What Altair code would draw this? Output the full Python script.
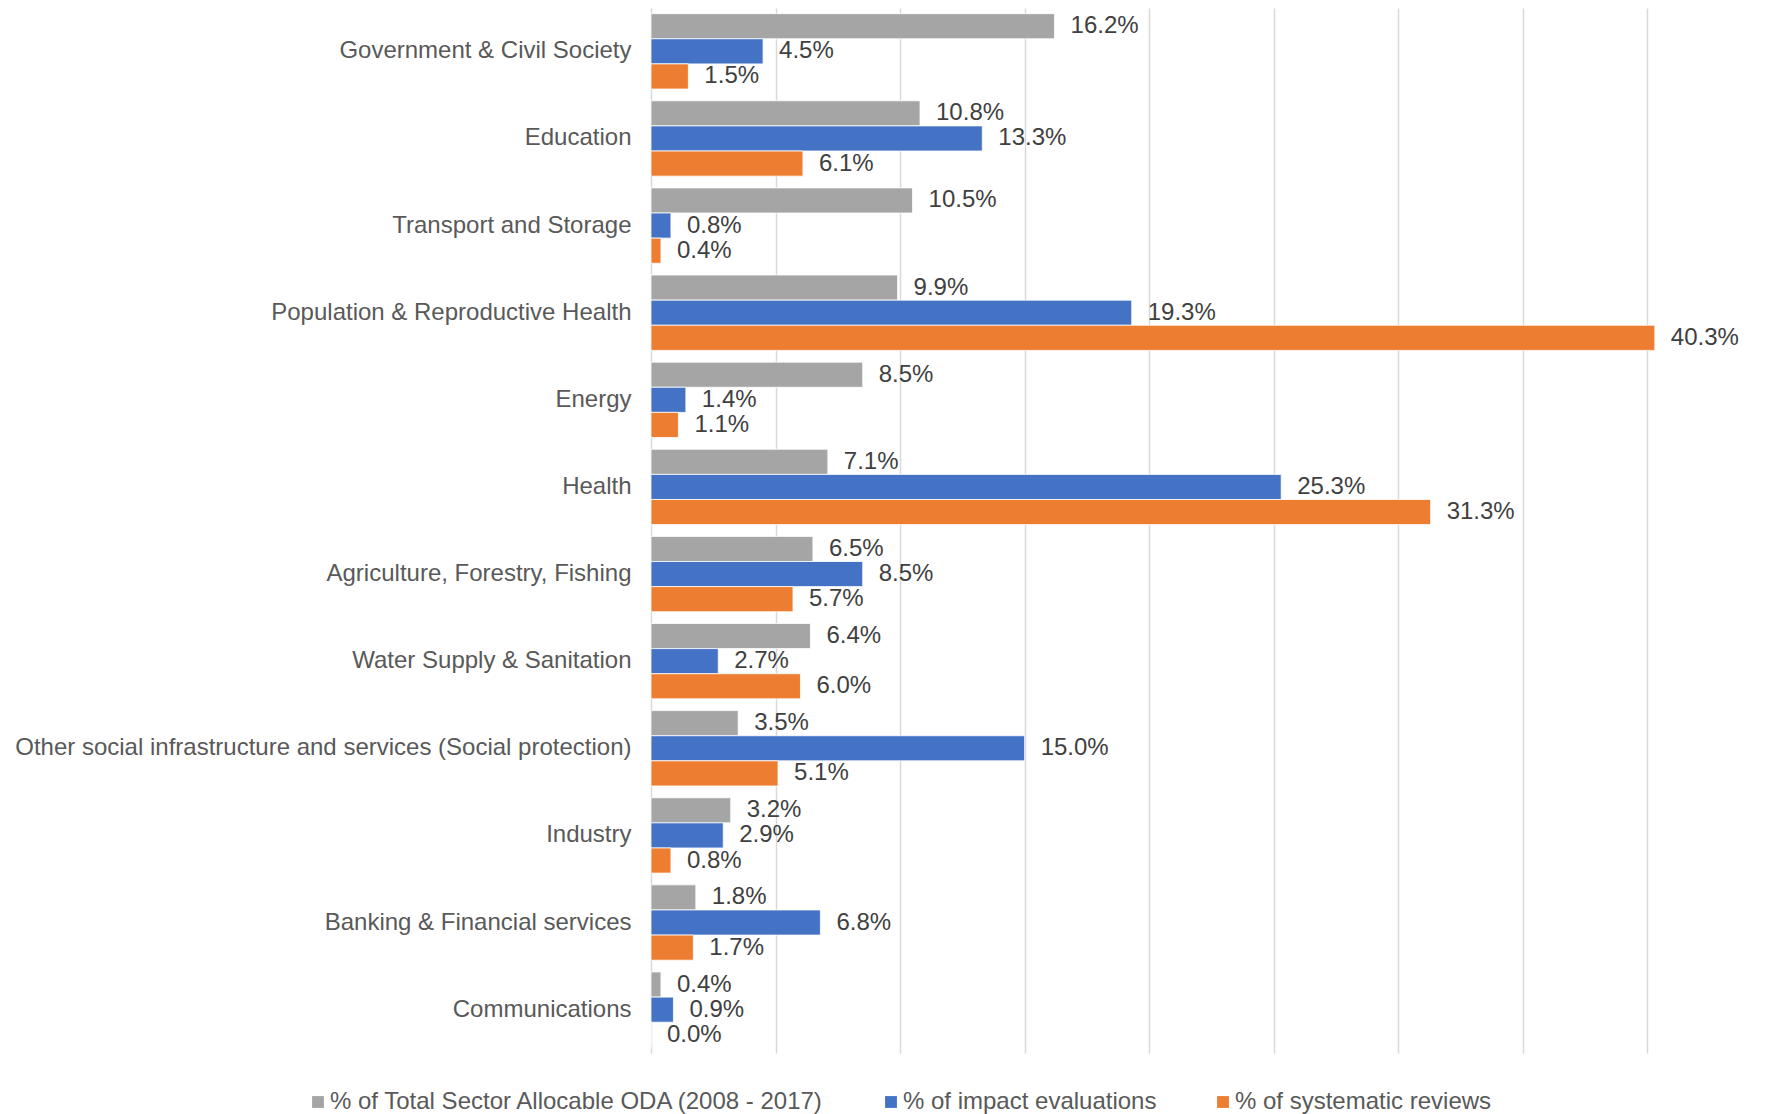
import altair as alt
import pandas as pd

categories = [
    "Government & Civil Society",
    "Education",
    "Transport and Storage",
    "Population & Reproductive Health",
    "Energy",
    "Health",
    "Agriculture, Forestry, Fishing",
    "Water Supply & Sanitation",
    "Other social infrastructure and services (Social protection)",
    "Industry",
    "Banking & Financial services",
    "Communications",
]
series = [
    "% of Total Sector Allocable ODA (2008 - 2017)",
    "% of impact evaluations",
    "% of systematic reviews",
]
oda = [16.2, 10.8, 10.5, 9.9, 8.5, 7.1, 6.5, 6.4, 3.5, 3.2, 1.8, 0.4]
impact = [4.5, 13.3, 0.8, 19.3, 1.4, 25.3, 8.5, 2.7, 15.0, 2.9, 6.8, 0.9]
reviews = [1.5, 6.1, 0.4, 40.3, 1.1, 31.3, 5.7, 6.0, 5.1, 0.8, 1.7, 0.0]
colors = ["#A5A5A5", "#4472C4", "#ED7D31"]
grid_values = [0, 5, 10, 15, 20, 25, 30, 35, 40]

rows = []
for i, c in enumerate(categories):
    for s, vals in zip(series, [oda, impact, reviews]):
        rows.append({"sector": c, "series": s, "value": vals[i],
                     "label": f"{vals[i]:.1f}%"})
df = pd.DataFrame(rows)

FONT = "Liberation Sans"

y_enc = alt.Y("sector:N", sort=categories,
              scale=alt.Scale(paddingInner=0.135, paddingOuter=0.065),
              axis=alt.Axis(title=None, labelFontSize=24, labelColor="#595959",
                            labelFont=FONT, labelPadding=20, labelLimit=0,
                            ticks=False, domain=False, grid=False))
yoff = alt.YOffset("series:N", sort=series,
                   scale=alt.Scale(paddingInner=0, paddingOuter=0))
x_enc = alt.X("value:Q", scale=alt.Scale(domain=[0, 44], nice=False),
              axis=alt.Axis(title=None, labels=False, ticks=False, domain=False,
                            grid=True, values=grid_values, gridColor="#D9D9D9",
                            gridWidth=1.5))

bars = alt.Chart(df).mark_bar(stroke="white", strokeWidth=0.8).encode(
    y=y_enc,
    yOffset=yoff,
    x=x_enc,
    color=alt.Color("series:N", sort=series,
                    scale=alt.Scale(domain=series, range=colors),
                    legend=alt.Legend(title=None, orient="none", direction="horizontal",
                                      legendX=-345, legendY=1082,
                                      labelFontSize=24, labelColor="#595959",
                                      labelFont=FONT, labelLimit=0,
                                      symbolType="square", symbolSize=140,
                                      symbolStrokeWidth=0, labelOffset=0,
                                      columnPadding=54, padding=0)),
)

texts = alt.Chart(df).mark_text(align="left", baseline="middle", dx=16,
                                fontSize=24, color="#404040", font=FONT).encode(
    y=alt.Y("sector:N", sort=categories),
    yOffset=alt.YOffset("series:N", sort=series),
    x=alt.X("value:Q"),
    text="label:N",
)

chart = alt.layer(bars, texts).properties(
    width=1096, height=1045,
    padding={"left": 6, "top": 0, "right": 0, "bottom": 0},
).configure(background="white").configure_view(stroke=None)

chart.save("out.html", embed_options={"renderer": "svg", "actions": False})
